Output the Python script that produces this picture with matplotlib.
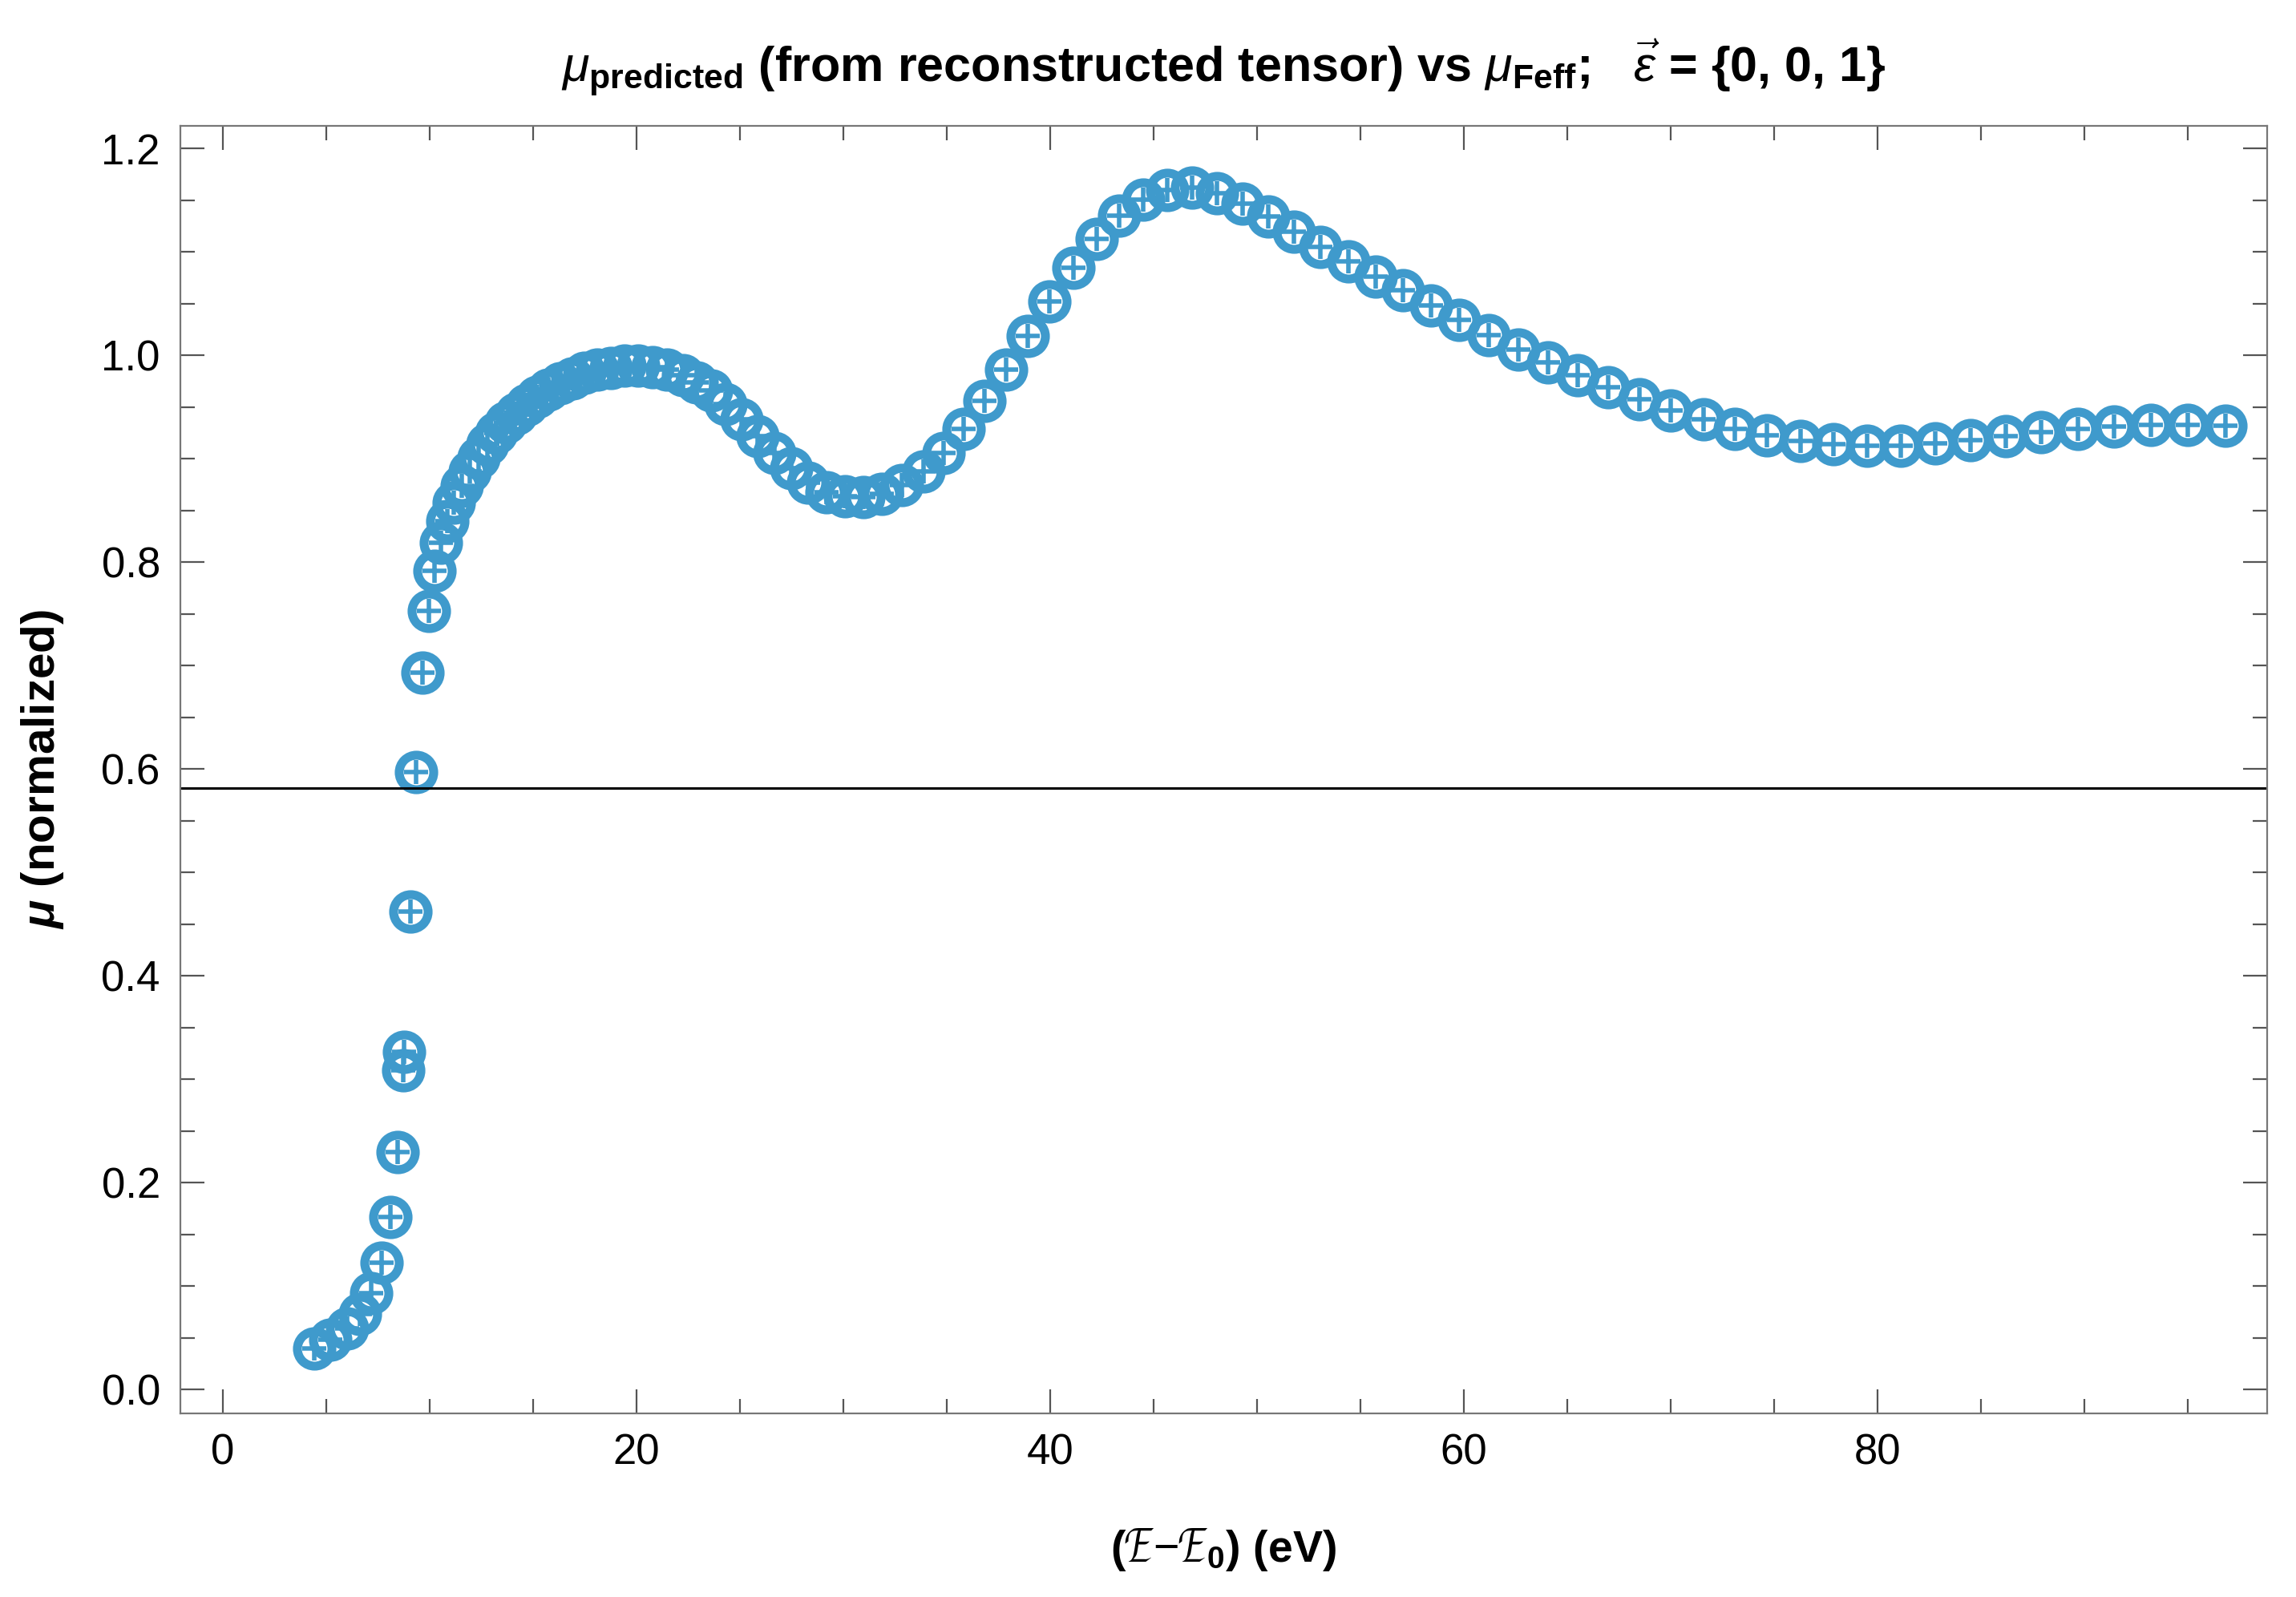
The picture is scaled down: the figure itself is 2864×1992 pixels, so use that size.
import matplotlib
matplotlib.use('Agg')
import matplotlib.pyplot as plt
from matplotlib.ticker import MultipleLocator

plt.rcParams['font.family'] = ['Liberation Sans', 'DejaVu Sans']
plt.rcParams['mathtext.fontset'] = 'custom'
plt.rcParams['mathtext.rm'] = 'Liberation Sans'
plt.rcParams['mathtext.it'] = 'Liberation Sans:italic'
plt.rcParams['mathtext.bf'] = 'Liberation Sans:bold'
plt.rcParams['mathtext.bfit'] = 'Liberation Sans:bold:italic'

# energy above edge (eV)
energy = [4.42, 5.20, 6.01, 6.62, 7.20, 7.69, 8.10, 8.45, 8.72, 8.78,
          9.08, 9.37, 9.65, 9.98, 10.26, 10.56, 10.86, 11.18,
          11.56, 11.95, 12.36, 12.79, 13.24, 13.70, 14.19, 14.69, 15.22, 15.76,
          16.32, 16.90, 17.50, 18.12, 18.76, 19.42, 20.09, 20.79, 21.50, 22.24,
          22.90, 23.60, 24.32, 25.09, 25.87, 26.68, 27.48, 28.32, 29.19, 30.09,
          30.97, 31.88, 32.85, 33.88, 34.85, 35.84, 36.83, 37.86, 38.93, 39.99,
          41.12, 42.24, 43.33, 44.49, 45.67, 46.86, 48.07, 49.33, 50.55, 51.81,
          53.09, 54.41, 55.74, 57.07, 58.42, 59.79, 61.21, 62.64, 64.07, 65.50,
          66.98, 68.48, 69.99, 71.60, 73.10, 74.66, 76.27, 77.88, 79.51, 81.12,
          82.78, 84.50, 86.20, 87.92, 89.69, 91.45, 93.22, 95.00, 96.83]

mu_predicted = [0.040, 0.048, 0.059, 0.073, 0.093, 0.123, 0.167, 0.230, 0.309, 0.327,
                0.462, 0.597, 0.693, 0.753, 0.792, 0.819, 0.840, 0.858,
                0.874, 0.888, 0.901, 0.914, 0.925, 0.935, 0.944, 0.952, 0.960, 0.967,
                0.973, 0.978, 0.983, 0.986, 0.988, 0.990, 0.990, 0.989, 0.986, 0.981,
                0.974, 0.966, 0.953, 0.938, 0.922, 0.906, 0.891, 0.877, 0.868, 0.864,
                0.863, 0.866, 0.875, 0.888, 0.906, 0.929, 0.956, 0.986, 1.019, 1.052,
                1.085, 1.113, 1.135, 1.151, 1.160, 1.162, 1.157, 1.147, 1.134, 1.120,
                1.105, 1.091, 1.076, 1.063, 1.048, 1.034, 1.020, 1.006, 0.993, 0.981,
                0.969, 0.958, 0.947, 0.938, 0.929, 0.923, 0.917, 0.914, 0.913, 0.913,
                0.915, 0.918, 0.922, 0.926, 0.929, 0.931, 0.933, 0.933, 0.932]

# Feff curve sits right on top of the prediction in the picture
mu_feff = list(mu_predicted)

threshold = 0.582

blue = '#3f9acc'

fig = plt.figure(figsize=(14.32, 9.96), dpi=200)
ax = fig.add_axes([0.0785, 0.1152, 0.9088, 0.806])

ax.plot(energy, mu_predicted, linestyle='none', marker='o', markersize=15.5,
        markerfacecolor='none', markeredgecolor=blue, markeredgewidth=4.0)
ax.plot(energy, mu_feff, linestyle='none', marker='+', markersize=11,
        markeredgecolor=blue, markeredgewidth=2.0)
ax.axhline(threshold, color='black', linewidth=1.1)

ax.set_xlim(-2.05, 98.83)
ax.set_ylim(-0.0226, 1.222)
ax.xaxis.set_major_locator(MultipleLocator(20))
ax.xaxis.set_minor_locator(MultipleLocator(5))
ax.yaxis.set_major_locator(MultipleLocator(0.2))
ax.yaxis.set_minor_locator(MultipleLocator(0.05))
ax.yaxis.set_major_formatter(matplotlib.ticker.FormatStrFormatter('%.1f'))

ax.tick_params(which='both', direction='in', top=True, right=True,
               color='#555555', width=0.8, labelsize=19, pad=9)
ax.tick_params(which='major', length=10.8)
ax.tick_params(which='minor', length=6.5)
for s in ax.spines.values():
    s.set_color('#777777')
    s.set_linewidth(0.8)

ax.set_xlabel(r'($\mathcal{E}$$-$$\mathcal{E}_\mathbf{0}$) (eV)', fontsize=20,
              fontweight='bold', labelpad=24)
ax.set_ylabel(r'$\mathbfit{\mu}$ (normalized)', fontsize=21, fontweight='bold',
              labelpad=16)
ax.set_title(r'$\mu_{\mathbf{predicted}}$ (from reconstructed tensor) vs $\mu_{\mathbf{Feff}}$;   '
             r'$\vec{\epsilon}$ = {0, 0, 1}', fontsize=22, fontweight='bold', pad=20)

fig.savefig('out.png', dpi=200)
